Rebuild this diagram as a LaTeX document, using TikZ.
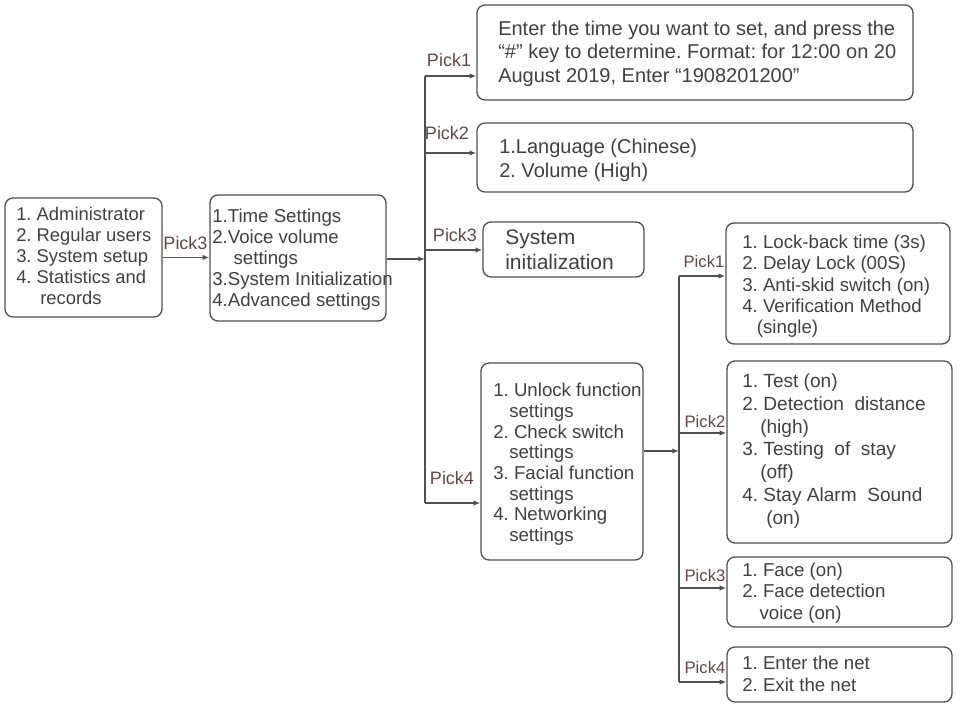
\documentclass[tikz,border=0pt]{standalone}
\usepackage{fontspec}
\setmainfont{Liberation Sans}
\usetikzlibrary{arrows.meta,fit}
\definecolor{ink}{HTML}{404040}
\definecolor{pick}{HTML}{5E4848}
\definecolor{edge}{HTML}{505050}
\frenchspacing

\begin{document}
\begin{tikzpicture}[x=0.75pt,y=-0.75pt,
  box/.style={draw=edge, line width=1pt, rounded corners=6pt, inner sep=0pt},
  txt/.style={anchor=west, inner sep=0pt, align=left, text=ink},
  lbl/.style={text=pick, inner sep=0pt, font=\fontsize{13.5}{16}\selectfont},
  lbls/.style={text=pick, inner sep=0pt, font=\fontsize{12.5}{15}\selectfont},
  wire/.style={draw=edge, line width=1pt},
  arr/.style={wire, -{Latex[length=5pt,width=4pt]}}
]
\useasboundingbox (0,0) rectangle (960,705);

% ---- boxes ----
\node[box, fit={(5,198) (162,317)}] (A) {};
\node[box, fit={(210,195) (386,321)}] (B) {};
\node[box, fit={(477,5) (913,100)}] (C1) {};
\node[box, fit={(477,123) (913,192)}] (C2) {};
\node[box, fit={(483,222) (644,277)}] (C3) {};
\node[box, fit={(481,363) (643,560)}] (C4) {};
\node[box, fit={(726,223) (950,344)}] (D1) {};
\node[box, fit={(727,361) (952,543)}] (D2) {};
\node[box, fit={(727,557) (952,627)}] (D3) {};
\node[box, fit={(727,647) (952,702)}] (D4) {};

% ---- box texts ----
\node[txt, font=\fontsize{13.8}{15.8}\selectfont] (tA) at (16,256)
  {1. Administrator\\2. Regular users\\3. System setup\\4. Statistics and\\\hspace*{18pt}records};
\node[txt, font=\fontsize{14}{15.8}\selectfont] (tB) at (212,260)
  {1.Time Settings\\2.Voice volume\\\hspace*{16pt}settings\\3.System Initialization\\4.Advanced settings};
\node[txt, font=\fontsize{15}{17.6}\selectfont] (tC1) at (498,53.5)
  {Enter the time you want to set, and press the\\“\#” key to determine. Format: for 12:00 on 20\\August 2019, Enter “1908201200”};
\node[txt, font=\fontsize{15}{18}\selectfont] (tC2) at (499,160)
  {1.Language (Chinese)\\2. Volume (High)};
\node[txt, font=\fontsize{15.75}{18.75}\selectfont] (tC3) at (505,249.5)
  {System\\initialization};
\node[txt, font=\fontsize{14}{15.5}\selectfont] (tC4) at (493,464.5)
  {1. Unlock function\\\hspace*{12pt}settings\\2. Check switch\\\hspace*{12pt}settings\\3. Facial function\\\hspace*{12pt}settings\\4. Networking\\\hspace*{12pt}settings};
\node[txt, font=\fontsize{14}{16}\selectfont] (tD1) at (742,286.5)
  {1. Lock-back time (3s)\\2. Delay Lock (00S)\\3. Anti-skid switch (on)\\4. Verification Method\\\hspace*{11pt}(single)};
\node[txt, font=\fontsize{14.3}{17.2}\selectfont] (tD2) at (742,451)
  {1. Test (on)\\2. Detection\ \ distance\\\hspace*{13.5pt}(high)\\3. Testing\ \ of\ \ stay\\\hspace*{13.5pt}(off)\\4. Stay Alarm\ \ Sound\\\hspace*{18pt}(on)};
\node[txt, font=\fontsize{14}{16}\selectfont] (tD3) at (742,593)
  {1. Face (on)\\2. Face detection\\\hspace*{13pt}voice (on)};
\node[txt, font=\fontsize{14}{16.5}\selectfont] (tD4) at (742,674)
  {1. Enter the net\\2. Exit the net};

% ---- branch points ----
\coordinate (bm) at (425,259);
\coordinate (b1) at (425,76);
\coordinate (b2) at (425,153);
\coordinate (b3) at (425,250);
\coordinate (b4) at (425,503);
\coordinate (cm) at (679,451);
\coordinate (c1) at (679,276);
\coordinate (c2) at (679,433);
\coordinate (c3) at (679,588);
\coordinate (c4) at (679,682);

% ---- connectors ----
\draw[arr] (A.east) -- (A.east -| B.west);
\draw[arr] (B.east |- bm) -- (bm);
\draw[wire] (b1) -- (b4);
\draw[arr] (b1) -- (b1 -| C1.west);
\draw[arr] (b2) -- (b2 -| C2.west);
\draw[arr] (b3) -- (b3 -| C3.west);
\draw[arr] (b4) -- (b4 -| C4.west);
\draw[arr] (cm -| C4.east) -- (cm);
\draw[wire] (c1) -- (c4);
\draw[arr] (c1) -- (c1 -| D1.west);
\draw[arr] (c2) -- (c2 -| D2.west);
\draw[arr] (c3) -- (c3 -| D3.west);
\draw[arr] (c4) -- (c4 -| D4.west);

% ---- choice labels ----
\node[lbl] (pA) at (185.5,243) {Pick3};
\node[lbl] (p1) at (449,60) {Pick1};
\node[lbl] (p2) at (447,133) {Pick2};
\node[lbl] (p3) at (455,235) {Pick3};
\node[lbl] (p4) at (452,478) {Pick4};
\node[lbls] (q1) at (704,262) {Pick1};
\node[lbls] (q2) at (705,422) {Pick2};
\node[lbls] (q3) at (705,576) {Pick3};
\node[lbls] (q4) at (705,668) {Pick4};
\end{tikzpicture}
\end{document}
